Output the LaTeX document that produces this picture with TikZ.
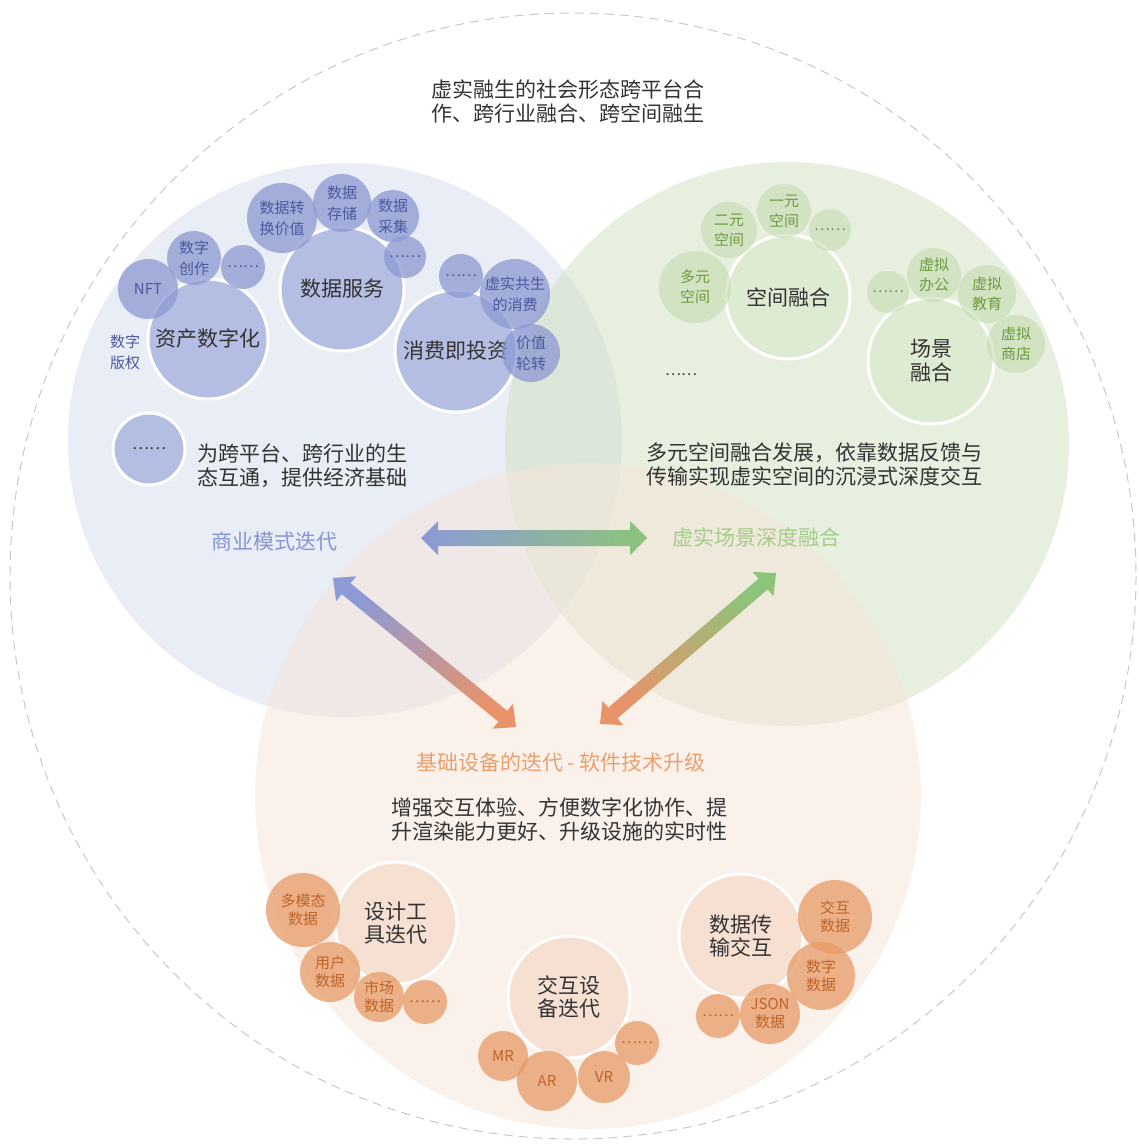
\documentclass[tikz,border=0pt]{standalone}
\usepackage{fontspec}
\setmainfont{Noto Sans CJK SC}
\usetikzlibrary{calc}
\definecolor{bgblue}{HTML}{D5DCEC}
\definecolor{bggreen}{HTML}{D0E3C0}
\definecolor{bgorange}{HTML}{F6E4D8}
\definecolor{bmainc}{HTML}{B4BEE3}
\definecolor{bsmallc}{HTML}{8C98D2}
\definecolor{btxt}{HTML}{4A59A0}
\definecolor{gmainc}{HTML}{DEEBD3}
\definecolor{gsmallc}{HTML}{BFD9AC}
\definecolor{gtxt}{HTML}{6E9A3E}
\definecolor{omainc}{HTML}{F6E0D2}
\definecolor{osmallc}{HTML}{E69B66}
\definecolor{otxt}{HTML}{BF6429}
\definecolor{txt}{HTML}{333333}
\definecolor{hblue}{HTML}{8796D0}
\definecolor{hgreen}{HTML}{A5CC8C}
\definecolor{horange}{HTML}{E9A06E}
\definecolor{arblue}{HTML}{8C9AD6}
\definecolor{argreen}{HTML}{8CC47A}
\definecolor{arorange}{HTML}{E8936A}
\definecolor{dashc}{HTML}{C8C8C8}
% #1 A, #2 B, #3 head length, #4 head half width, #5 shaft half width, #6 shade options
\newcommand{\gradarrow}[6]{%
  \shade[#6] (#1)
   -- ($(#1)!#3!(#2)!#4!90:(#2)$)
   -- ($(#1)!#3!(#2)!#5!90:(#2)$)
   -- ($(#2)!#3!(#1)!#5!270:(#1)$)
   -- ($(#2)!#3!(#1)!#4!270:(#1)$)
   -- (#2)
   -- ($(#2)!#3!(#1)!#4!90:(#1)$)
   -- ($(#2)!#3!(#1)!#5!90:(#1)$)
   -- ($(#1)!#3!(#2)!#5!270:(#2)$)
   -- ($(#1)!#3!(#2)!#4!270:(#2)$)
   -- cycle;}
\tikzset{
  circ/.style={circle, inner sep=0pt, outer sep=0pt, align=center, text opacity=1},
  bmain/.style={circ, fill=bmainc, draw=white, line width=3pt, text=txt, font=\fontsize{21}{24}\selectfont},
  bsmall/.style={circ, fill=bsmallc, fill opacity=0.75, text=btxt, font=\fontsize{15}{21}\selectfont},
  gmain/.style={circ, fill=gmainc, draw=white, line width=3pt, text=txt, font=\fontsize{21}{24}\selectfont},
  gsmall/.style={circ, fill=gsmallc, fill opacity=0.55, text=gtxt, font=\fontsize{15}{20}\selectfont},
  omain/.style={circ, fill=omainc, draw=white, line width=3pt, text=txt, font=\fontsize{21}{23}\selectfont},
  osmall/.style={circ, fill=osmallc, fill opacity=0.75, text=otxt, font=\fontsize{15}{18}\selectfont},
  body/.style={inner sep=0pt, align=left, text=txt, font=\fontsize{21}{24}\selectfont},
  head/.style={inner sep=0pt, font=\fontsize{21}{24}\selectfont},
}
\begin{document}
\begin{tikzpicture}[x=1pt,y=-1pt]
\useasboundingbox (0,0) rectangle (1139,1146);
\fill[white] (0,0) rectangle (1139,1146);
% outer dashed circle
\draw[dashc, line width=1pt, dash pattern=on 9pt off 6pt] (573,576) circle[radius=563];
% background circles
\fill[bgblue, fill opacity=0.5] (345,440) circle[radius=277];
\fill[bggreen, fill opacity=0.5] (787,444) circle[radius=282];
\fill[bgorange, fill opacity=0.5] (588,796) circle[radius=333];

% top text
\node[body] (top) at (568,101) {虚实融生的社会形态跨平台合\\作、跨行业融合、跨空间融生};

% ---- blue cluster
\node[bmain, minimum size=120pt] (zc) at (208,339) {资产数字化};
\node[bmain, minimum size=124pt] (sj) at (342,289) {数据服务};
\node[bmain, minimum size=122pt] (xf) at (456,351) {消费即投资};
\node[bmain, minimum size=72pt, font=\fontsize{16}{18}\selectfont] (bdots) at (149,449) {……};
\node[bsmall, minimum size=60pt] (nft) at (148,289) {NFT};
\node[bsmall, minimum size=54pt] (szcz) at (194,258) {数字\\创作};
\node[bsmall, minimum size=44pt] (bd1) at (243,267) {……};
\node[bsmall, minimum size=70pt] (sjzh) at (282,218) {数据转\\换价值};
\node[bsmall, minimum size=58pt] (sjcc) at (342,203) {数据\\存储};
\node[bsmall, minimum size=52pt] (sjcj) at (393,216) {数据\\采集};
\node[bsmall, minimum size=42pt] (bd2) at (405,257) {……};
\node[bsmall, minimum size=44pt] (bd3) at (461,276) {……};
\node[bsmall, minimum size=70pt] (xsgs) at (515,294) {虚实共生\\的消费};
\node[bsmall, minimum size=58pt] (jzlz) at (531,353) {价值\\轮转};
\node[inner sep=0pt, align=center, text=btxt, font=\fontsize{15}{21}\selectfont] (szbq) at (125,352) {数字\\版权};
\node[body, anchor=west] (btext) at (197,466) {为跨平台、跨行业的生\\态互通，提供经济基础};
\node[head, text=hblue] (hb) at (274,541) {商业模式迭代};

% ---- green cluster
\node[gmain, minimum size=124pt] (kjrh) at (788,297) {空间融合};
\node[gmain, minimum size=126pt] (cjrh) at (931,361) {场景\\融合};
\node[gsmall, minimum size=72pt] (dykj) at (695,287) {多元\\空间};
\node[gsmall, minimum size=56pt] (eykj) at (729,230) {二元\\空间};
\node[gsmall, minimum size=54pt] (yykj) at (784,211) {一元\\空间};
\node[gsmall, minimum size=42pt, text=gtxt!70!gray] (gd1) at (830,230) {……};
\node[gsmall, minimum size=42pt, text=gtxt!70!gray] (gd2) at (888,292) {……};
\node[gsmall, minimum size=54pt] (xnbg) at (934,275) {虚拟\\办公};
\node[gsmall, minimum size=58pt] (xnjy) at (987,294) {虚拟\\教育};
\node[gsmall, minimum size=58pt] (xnsd) at (1016,344) {虚拟\\商店};
\node[inner sep=0pt, text=txt, font=\fontsize{15}{18}\selectfont] (gdots) at (681,375) {……};
\node[body, anchor=west] (gtext) at (646,464) {多元空间融合发展，依靠数据反馈与\\传输实现虚实空间的沉浸式深度交互};
\node[head, text=hgreen] (hg) at (756,537) {虚实场景深度融合};

% ---- orange cluster
\node[head, text=horange] (ho) at (561,762) {基础设备的迭代 - 软件技术升级};
\node[body, anchor=west] (otext) at (391,819) {增强交互体验、方便数字化协作、提\\升渲染能力更好、升级设施的实时性};
\node[omain, minimum size=122pt] (sjgj) at (396,923) {设计工\\具迭代};
\node[omain, minimum size=122pt] (jhsb) at (569,997) {交互设\\备迭代};
\node[omain, minimum size=124pt] (sjcs) at (741,936) {数据传\\输交互};
\node[osmall, minimum size=74pt] (dmt) at (303,910) {多模态\\数据};
\node[osmall, minimum size=60pt] (yh) at (330,972) {用户\\数据};
\node[osmall, minimum size=50pt] (sc) at (379,997) {市场\\数据};
\node[osmall, minimum size=44pt] (od1) at (425,1002) {……};
\node[osmall, minimum size=50pt] (mr) at (503,1056) {MR};
\node[osmall, minimum size=60pt] (ar) at (547,1081) {AR};
\node[osmall, minimum size=52pt] (vr) at (604,1077) {VR};
\node[osmall, minimum size=44pt] (od2) at (637,1043) {……};
\node[osmall, minimum size=74pt] (jhsj) at (835,917) {交互\\数据};
\node[osmall, minimum size=68pt] (szsj) at (821,976) {数字\\数据};
\node[osmall, minimum size=60pt] (json) at (770,1014) {JSON\\数据};
\node[osmall, minimum size=44pt] (od3) at (718,1016) {……};

% ---- arrows
\coordinate (h1) at (421,538);
\coordinate (h2) at (647,538);
\coordinate (l1) at (333,578);
\coordinate (l2) at (516,727);
\coordinate (r1) at (600,724);
\coordinate (r2) at (776,573);
\gradarrow{h1}{h2}{17pt}{17pt}{8pt}{left color=arblue, right color=argreen}
\gradarrow{l1}{l2}{17pt}{16pt}{7pt}{left color=arblue, right color=arorange, shading angle=39.2}
\gradarrow{r1}{r2}{17pt}{16pt}{7pt}{left color=argreen, right color=arorange, shading angle=-40.6}
\end{tikzpicture}
\end{document}
